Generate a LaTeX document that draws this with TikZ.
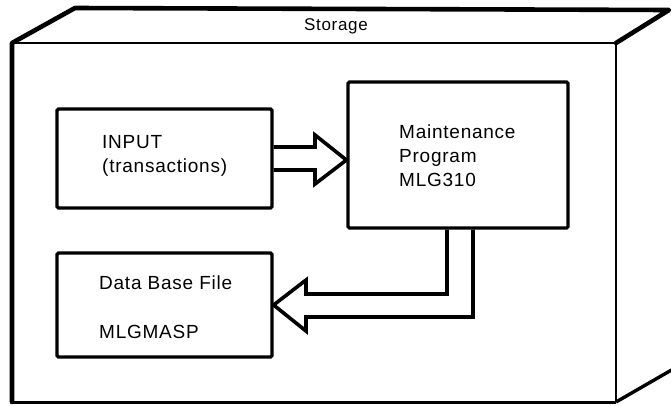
\documentclass[tikz,border=0pt]{standalone}
\usepackage{fontspec}
\setmainfont{Liberation Sans}[LetterSpace=4]
\usetikzlibrary{calc}
\begin{document}
\begin{tikzpicture}[x=1pt,y=-1pt,
  box/.style={draw,line width=3.2pt,rounded corners=1.5pt,minimum width=#1,inner sep=0pt},
  label/.style={anchor=west,inner sep=0pt,font=\fontsize{19}{24}\selectfont,align=left},
  flow/.style={draw,line width=3.6pt,miter limit=10},
  edgethick/.style={line width=4.6pt,line cap=round,line join=round},
  edgethin/.style={line width=2.4pt}]
\useasboundingbox (0,0) rectangle (671,405);

% storage cabinet outline
\coordinate (ftl) at (12,43);
\coordinate (ftr) at (616,43);
\coordinate (fbl) at (12,402);
\coordinate (fbr) at (616,402);
\coordinate (btl) at (75,8);
\coordinate (btr) at (669,10);
\coordinate (bbr) at (675,368);
\draw[edgethin] (ftl) -- (ftr) -- (fbr);
\draw[line width=3pt] (fbl) -- (fbr);
\draw[line width=3.4pt] (fbr) -- (bbr);
\draw[edgethick] (fbl) -- (ftl) -- (btl) -- (btr) -- (ftr);
\node[inner sep=0pt,font=\fontsize{17}{20}\selectfont] (storage) at (336,26) {Storage};

% boxes
\node[box=215pt,minimum height=99pt] (input) at (164.5,158.5) {};
\node[box=220pt,minimum height=146pt] (maint) at (458,155) {};
\node[box=215pt,minimum height=104pt] (dbfile) at (164.5,305) {};

\node[label] (inputtxt) at (102,156) {INPUT\\(transactions)};
\node[label] (mainttxt) at (399,156) {Maintenance\\Program\\MLG310};
\node[label] (dbtxt1) at (99,283) {Data Base File};
\node[label] (dbtxt2) at (99,332) {MLGMASP};

% hollow flow arrows
\draw[flow] (input.east |- 0,147) -- (315,147) -- (315,135)
  -- (maint.west |- 0,160) -- (315,184) -- (315,170) -- (input.east |- 0,170);
\draw[flow] (maint.south -| 447,0) -- (447,294) -- (306,294) -- (306,280)
  -- (dbfile.east |- 0,305) -- (306,331) -- (306,317) -- (473,317)
  -- (maint.south -| 473,0);
\end{tikzpicture}
\end{document}
